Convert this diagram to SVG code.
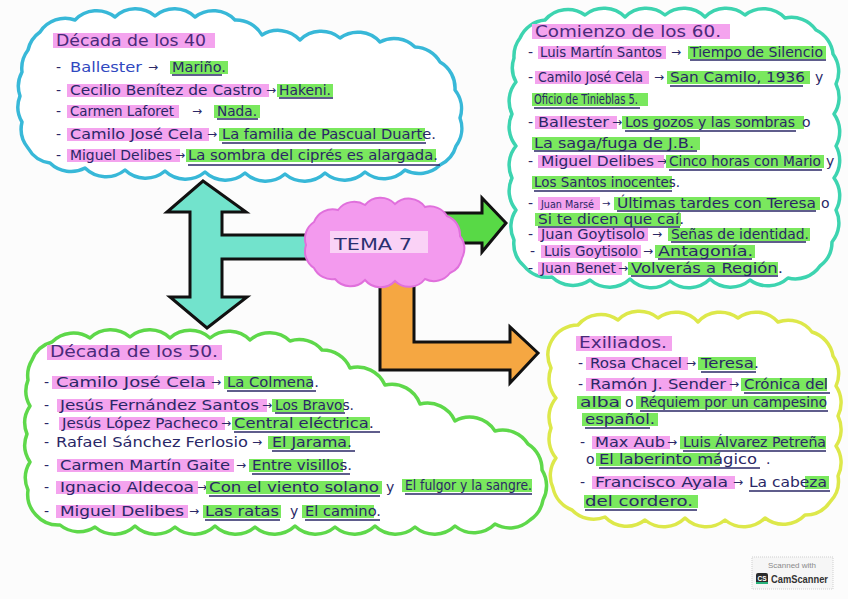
<svg xmlns="http://www.w3.org/2000/svg" width="848" height="599" viewBox="0 0 848 599">
<style>
.t{font-family:"DejaVu Sans","Liberation Sans",sans-serif;font-size:14px;fill:#2a2766}
.ttl{font-family:"DejaVu Sans","Liberation Sans",sans-serif;font-size:15px;fill:#4a2a7a}
.ar{font-family:"DejaVu Sans","Liberation Sans",sans-serif;font-size:12px;fill:#2a2766}
.hp{fill:#f4a3ee}
.hg{fill:#7ae85e}
.ul{stroke:#2a2766;stroke-width:1.3;fill:none}
.cloud{fill:#ffffff;stroke-width:3.5;stroke-linejoin:round}
.arrow{stroke:#111111;stroke-width:3;stroke-linejoin:miter}
</style>
<rect x="0" y="0" width="848" height="599" fill="#fcfcfc"/>

<g id="connectors">
  <path class="arrow" fill="#72e3cc" d="M203,181 L246,212 L222,212 L222,235 L312,235 L312,259 L222,259 L222,297 L247,297 L207,328 L170,297 L190,297 L190,212 L167,212 Z"/>
  <path class="arrow" fill="#58d946" d="M425,213 L482,213 L482,198 L506,223 L482,252 L482,243 L425,243 Z"/>
  <path class="arrow" fill="#f5a742" d="M380,265 L380,370 L510,370 L510,383 L538,353 L510,327 L510,342 L414,342 L414,265 Z"/>
</g>

<g id="node-tema7">
  <path fill="#f39aee" stroke="#e070dc" stroke-width="2" d="M306,245 A20,20 0 0 1 314,222 A20,20 0 0 1 338,210 A20,20 0 0 1 365,205 A20,20 0 0 1 395,204 A20,20 0 0 1 425,207 A20,20 0 0 1 447,216 A20,20 0 0 1 460,236 A20,20 0 0 1 462,258 A20,20 0 0 1 450,273 A20,20 0 0 1 425,279 A20,20 0 0 1 395,281 A20,20 0 0 1 365,280 A20,20 0 0 1 335,279 A20,20 0 0 1 314,268 A20,20 0 0 1 306,245 Z"/>
  <rect x="330" y="231" width="98" height="22" fill="#fbe0f8" opacity="0.8"/>
  <text class="t" x="334" y="250" style="font-size:16px;fill:#2a3070" textLength="78" lengthAdjust="spacingAndGlyphs">TEMA 7</text>
</g>

<g id="node-40s">
  <path class="cloud" stroke="#38b8d8" d="M28,50 A30,30 0 0 1 40,32 A30,30 0 0 1 75,20 A30,30 0 0 1 115,17 A30,30 0 0 1 155,16 A30,30 0 0 1 195,17 A30,30 0 0 1 235,20 A30,30 0 0 1 262,35 A30,30 0 0 1 300,40 A30,30 0 0 1 340,38 A30,30 0 0 1 380,42 A30,30 0 0 1 415,47 A30,30 0 0 1 440,62 A30,30 0 0 1 455,90 A30,30 0 0 1 460,118 A30,30 0 0 1 456,146 A30,30 0 0 1 440,165 A30,30 0 0 1 405,170 A30,30 0 0 1 365,172 A30,30 0 0 1 325,173 A30,30 0 0 1 285,174 A30,30 0 0 1 245,173 A30,30 0 0 1 205,172 A30,30 0 0 1 165,171 A30,30 0 0 1 125,170 A30,30 0 0 1 85,168 A30,30 0 0 1 50,163 A30,30 0 0 1 28,148 A30,30 0 0 1 22,122 A30,30 0 0 1 20,96 A30,30 0 0 1 22,72 A30,30 0 0 1 28,50 Z"/>
  <rect class="hp" x="53" y="33" width="162" height="15"/>
  <text class="ttl" x="56" y="46" textLength="150" lengthAdjust="spacingAndGlyphs">Década de los 40</text>

  <text class="t" x="56" y="72">-</text>
  <text class="t" x="70" y="72" textLength="72" lengthAdjust="spacingAndGlyphs" style="fill:#3048c0">Ballester</text>
  <text class="ar" x="148" y="71">→</text>
  <rect class="hg" x="170" y="61" width="58" height="13"/>
  <text class="t" x="172" y="72" textLength="54" lengthAdjust="spacingAndGlyphs">Mariño.</text>
  <line class="ul" x1="172" y1="75" x2="222" y2="75"/>

  <text class="t" x="56" y="95">-</text>
  <rect class="hp" x="67" y="84" width="202" height="13"/>
  <text class="t" x="70" y="95" textLength="192" lengthAdjust="spacingAndGlyphs">Cecilio Benítez de Castro</text>
  <text class="ar" x="266" y="94">→</text>
  <rect class="hg" x="277" y="84" width="56" height="13"/>
  <text class="t" x="279" y="95" textLength="52" lengthAdjust="spacingAndGlyphs">Hakeni.</text>
  <line class="ul" x1="279" y1="98" x2="333" y2="98"/>

  <text class="t" x="56" y="116">-</text>
  <rect class="hp" x="67" y="105" width="112" height="13"/>
  <text class="t" x="70" y="116" textLength="104" lengthAdjust="spacingAndGlyphs">Carmen Laforet</text>
  <text class="ar" x="192" y="115">→</text>
  <rect class="hg" x="214" y="105" width="46" height="13"/>
  <text class="t" x="217" y="116" textLength="40" lengthAdjust="spacingAndGlyphs">Nada.</text>
  <line class="ul" x1="217" y1="119" x2="258" y2="119"/>

  <text class="t" x="56" y="139">-</text>
  <rect class="hp" x="67" y="128" width="142" height="13"/>
  <text class="t" x="70" y="139" textLength="133" lengthAdjust="spacingAndGlyphs">Camilo José Cela</text>
  <text class="ar" x="207" y="138">→</text>
  <rect class="hg" x="219" y="128" width="206" height="13"/>
  <text class="t" x="222" y="139" textLength="214" lengthAdjust="spacingAndGlyphs">La familia de Pascual Duarte.</text>
  <line class="ul" x1="222" y1="143" x2="426" y2="143"/>

  <text class="t" x="56" y="160">-</text>
  <rect class="hp" x="67" y="149" width="113" height="13"/>
  <text class="t" x="70" y="160" textLength="102" lengthAdjust="spacingAndGlyphs">Miguel Delibes</text>
  <text class="ar" x="175" y="159">→</text>
  <rect class="hg" x="186" y="149" width="250" height="13"/>
  <text class="t" x="188" y="160" textLength="250" lengthAdjust="spacingAndGlyphs">La sombra del ciprés es alargada.</text>
  <line class="ul" x1="188" y1="165" x2="440" y2="165"/>
</g>

<g id="node-60s">
  <path class="cloud" stroke="#3dd4b0" d="M520,38 A30,30 0 0 1 545,20 A30,30 0 0 1 585,15 A30,30 0 0 1 625,17 A30,30 0 0 1 665,15 A30,30 0 0 1 705,17 A30,30 0 0 1 745,15 A30,30 0 0 1 785,18 A30,30 0 0 1 816,30 A30,30 0 0 1 833,54 A30,30 0 0 1 836,84 A30,30 0 0 1 834,114 A30,30 0 0 1 836,146 A30,30 0 0 1 834,178 A30,30 0 0 1 836,210 A30,30 0 0 1 832,242 A30,30 0 0 1 820,266 A30,30 0 0 1 788,278 A30,30 0 0 1 750,280 A30,30 0 0 1 710,279 A30,30 0 0 1 670,281 A30,30 0 0 1 630,279 A30,30 0 0 1 590,280 A30,30 0 0 1 552,277 A30,30 0 0 1 524,266 A30,30 0 0 1 514,240 A30,30 0 0 1 516,210 A30,30 0 0 1 512,178 A30,30 0 0 1 516,146 A30,30 0 0 1 512,114 A30,30 0 0 1 516,82 A30,30 0 0 1 514,58 A30,30 0 0 1 520,38 Z"/>
  <rect class="hp" x="532" y="24" width="198" height="15"/>
  <text class="ttl" x="535" y="37" textLength="186" lengthAdjust="spacingAndGlyphs">Comienzo de los 60.</text>

  <text class="t" x="528" y="57">-</text>
  <rect class="hp" x="538" y="46" width="128" height="13"/>
  <text class="t" x="540" y="57" textLength="122" lengthAdjust="spacingAndGlyphs">Luis Martín Santos</text>
  <text class="ar" x="671" y="56">→</text>
  <rect class="hg" x="688" y="46" width="138" height="13"/>
  <text class="t" x="690" y="57" textLength="133" lengthAdjust="spacingAndGlyphs">Tiempo de Silencio</text>
  <line class="ul" x1="690" y1="60" x2="826" y2="60"/>

  <text class="t" x="528" y="82">-</text>
  <rect class="hp" x="535" y="71" width="114" height="13"/>
  <text class="t" x="538" y="82" textLength="105" lengthAdjust="spacingAndGlyphs">Camilo José Cela</text>
  <text class="ar" x="654" y="81">→</text>
  <rect class="hg" x="667" y="71" width="143" height="13"/>
  <text class="t" x="670" y="82" textLength="135" lengthAdjust="spacingAndGlyphs">San Camilo, 1936</text>
  <text class="t" x="815" y="82">y</text>
  <line class="ul" x1="670" y1="86" x2="803" y2="86"/>

  <rect class="hg" x="532" y="93" width="116" height="13"/>
  <text class="t" x="534" y="104" textLength="104" lengthAdjust="spacingAndGlyphs">Oficio de Tinieblas 5.</text>
  <line class="ul" x1="534" y1="108" x2="640" y2="108"/>

  <text class="t" x="528" y="127">-</text>
  <rect class="hp" x="535" y="116" width="82" height="13"/>
  <text class="t" x="538" y="127" textLength="71" lengthAdjust="spacingAndGlyphs">Ballester</text>
  <text class="ar" x="612" y="126">→</text>
  <rect class="hg" x="622" y="116" width="182" height="13"/>
  <text class="t" x="625" y="127" textLength="170" lengthAdjust="spacingAndGlyphs">Los gozos y las sombras</text>
  <text class="t" x="802" y="127">o</text>
  <line class="ul" x1="625" y1="131" x2="796" y2="131"/>

  <rect class="hg" x="532" y="137" width="168" height="13"/>
  <text class="t" x="534" y="148" textLength="160" lengthAdjust="spacingAndGlyphs">La saga/fuga de J.B.</text>
  <line class="ul" x1="534" y1="151" x2="697" y2="151"/>

  <text class="t" x="528" y="166">-</text>
  <rect class="hp" x="538" y="155" width="126" height="13"/>
  <text class="t" x="541" y="166" textLength="113" lengthAdjust="spacingAndGlyphs">Miguel Delibes</text>
  <text class="ar" x="657" y="165">→</text>
  <rect class="hg" x="666" y="155" width="158" height="13"/>
  <text class="t" x="669" y="166" textLength="152" lengthAdjust="spacingAndGlyphs">Cinco horas con Mario</text>
  <text class="t" x="826" y="166">y</text>
  <line class="ul" x1="669" y1="170" x2="822" y2="170"/>

  <rect class="hg" x="532" y="176" width="140" height="13"/>
  <text class="t" x="534" y="187" textLength="146" lengthAdjust="spacingAndGlyphs">Los Santos inocentes.</text>
  <line class="ul" x1="534" y1="191" x2="672" y2="191"/>

  <text class="t" x="528" y="208">-</text>
  <rect class="hp" x="538" y="197" width="62" height="13"/>
  <text class="t" x="541" y="208" style="font-size:10px" textLength="53" lengthAdjust="spacingAndGlyphs">Juan Marsé</text>
  <text class="ar" x="602" y="207" style="font-size:10px">→</text>
  <rect class="hg" x="614" y="197" width="206" height="13"/>
  <text class="t" x="617" y="208" textLength="199" lengthAdjust="spacingAndGlyphs">Últimas tardes con Teresa</text>
  <text class="t" x="821" y="208">o</text>
  <line class="ul" x1="617" y1="211" x2="816" y2="211"/>

  <rect class="hg" x="535" y="213" width="146" height="13"/>
  <text class="t" x="538" y="224" textLength="146" lengthAdjust="spacingAndGlyphs">Si te dicen que caí.</text>
  <line class="ul" x1="538" y1="227" x2="680" y2="227"/>

  <text class="t" x="528" y="239">-</text>
  <rect class="hp" x="538" y="228" width="110" height="13"/>
  <text class="t" x="541" y="239" textLength="104" lengthAdjust="spacingAndGlyphs">Juan Goytisolo</text>
  <text class="ar" x="652" y="238">→</text>
  <rect class="hg" x="668" y="228" width="142" height="13"/>
  <text class="t" x="671" y="239" textLength="138" lengthAdjust="spacingAndGlyphs">Señas de identidad.</text>
  <line class="ul" x1="671" y1="242" x2="806" y2="242"/>

  <text class="t" x="530" y="256">-</text>
  <rect class="hp" x="541" y="245" width="100" height="13"/>
  <text class="t" x="544" y="256" textLength="94" lengthAdjust="spacingAndGlyphs">Luis Goytisolo</text>
  <text class="ar" x="643" y="255">→</text>
  <rect class="hg" x="655" y="245" width="100" height="13"/>
  <text class="t" x="658" y="256" textLength="95" lengthAdjust="spacingAndGlyphs">Antagonía.</text>
  <line class="ul" x1="658" y1="259" x2="752" y2="259"/>

  <text class="t" x="528" y="273">-</text>
  <rect class="hp" x="538" y="262" width="84" height="13"/>
  <text class="t" x="541" y="273" textLength="75" lengthAdjust="spacingAndGlyphs">Juan Benet</text>
  <text class="ar" x="618" y="272">→</text>
  <rect class="hg" x="628" y="262" width="150" height="13"/>
  <text class="t" x="631" y="273" textLength="152" lengthAdjust="spacingAndGlyphs">Volverás a Región.</text>
  <line class="ul" x1="631" y1="276" x2="778" y2="276"/>
</g>

<g id="node-50s">
  <path class="cloud" stroke="#5ed84a" d="M32,360 A30,30 0 0 1 52,342 A30,30 0 0 1 90,338 A30,30 0 0 1 130,337 A30,30 0 0 1 170,338 A30,30 0 0 1 210,338 A30,30 0 0 1 250,340 A30,30 0 0 1 290,341 A30,30 0 0 1 322,350 A30,30 0 0 1 350,368 A30,30 0 0 1 385,385 A30,30 0 0 1 420,404 A30,30 0 0 1 455,421 A30,30 0 0 1 495,431 A30,30 0 0 1 528,444 A30,30 0 0 1 542,470 A30,30 0 0 1 543,500 A30,30 0 0 1 530,520 A30,30 0 0 1 495,524 A30,30 0 0 1 455,526 A30,30 0 0 1 415,527 A30,30 0 0 1 375,526 A30,30 0 0 1 335,527 A30,30 0 0 1 295,526 A30,30 0 0 1 255,527 A30,30 0 0 1 215,526 A30,30 0 0 1 175,527 A30,30 0 0 1 135,526 A30,30 0 0 1 95,527 A30,30 0 0 1 60,525 A30,30 0 0 1 36,515 A30,30 0 0 1 28,490 A30,30 0 0 1 30,462 A30,30 0 0 1 27,434 A30,30 0 0 1 30,406 A30,30 0 0 1 28,380 A30,30 0 0 1 32,360 Z"/>
  <rect class="hp" x="47" y="345" width="175" height="15"/>
  <text class="ttl" x="50" y="357" textLength="168" lengthAdjust="spacingAndGlyphs">Década de los 50.</text>

  <text class="t" x="44" y="387">-</text>
  <rect class="hp" x="52" y="376" width="162" height="13"/>
  <text class="t" x="56" y="387" textLength="150" lengthAdjust="spacingAndGlyphs">Camilo José Cela</text>
  <text class="ar" x="211" y="386">→</text>
  <rect class="hg" x="224" y="376" width="88" height="13"/>
  <text class="t" x="227" y="387" textLength="92" lengthAdjust="spacingAndGlyphs">La Colmena.</text>
  <line class="ul" x1="227" y1="391" x2="316" y2="391"/>

  <text class="t" x="44" y="410">-</text>
  <rect class="hp" x="57" y="399" width="210" height="13"/>
  <text class="t" x="60" y="410" textLength="199" lengthAdjust="spacingAndGlyphs">Jesús Fernández Santos</text>
  <text class="ar" x="262" y="409">→</text>
  <rect class="hg" x="272" y="399" width="72" height="13"/>
  <text class="t" x="275" y="410" textLength="79" lengthAdjust="spacingAndGlyphs">Los Bravos.</text>
  <line class="ul" x1="275" y1="413" x2="345" y2="413"/>

  <text class="t" x="44" y="428">-</text>
  <rect class="hp" x="59" y="417" width="166" height="13"/>
  <text class="t" x="62" y="428" textLength="156" lengthAdjust="spacingAndGlyphs">Jesús López Pacheco</text>
  <text class="ar" x="221" y="427">→</text>
  <rect class="hg" x="232" y="417" width="138" height="13"/>
  <text class="t" x="234" y="428" textLength="140" lengthAdjust="spacingAndGlyphs">Central eléctrica.</text>
  <line class="ul" x1="234" y1="432" x2="380" y2="432"/>

  <text class="t" x="44" y="447">-</text>
  <text class="t" x="56" y="447" textLength="192" lengthAdjust="spacingAndGlyphs">Rafael Sánchez Ferlosio</text>
  <text class="ar" x="252" y="446">→</text>
  <rect class="hg" x="268" y="436" width="82" height="13"/>
  <text class="t" x="272" y="447" textLength="80" lengthAdjust="spacingAndGlyphs">El Jarama.</text>
  <line class="ul" x1="272" y1="451" x2="355" y2="451"/>

  <text class="t" x="44" y="470">-</text>
  <rect class="hp" x="57" y="459" width="177" height="13"/>
  <text class="t" x="60" y="470" textLength="170" lengthAdjust="spacingAndGlyphs">Carmen Martín Gaite</text>
  <text class="ar" x="236" y="469">→</text>
  <rect class="hg" x="249" y="459" width="94" height="13"/>
  <text class="t" x="252" y="470" textLength="100" lengthAdjust="spacingAndGlyphs">Entre visillos.</text>
  <line class="ul" x1="252" y1="474" x2="350" y2="474"/>

  <text class="t" x="44" y="492">-</text>
  <rect class="hp" x="56" y="481" width="142" height="13"/>
  <text class="t" x="60" y="492" textLength="134" lengthAdjust="spacingAndGlyphs">Ignacio Aldecoa</text>
  <text class="ar" x="197" y="491">→</text>
  <rect class="hg" x="206" y="481" width="176" height="13"/>
  <text class="t" x="209" y="492" textLength="170" lengthAdjust="spacingAndGlyphs">Con el viento solano</text>
  <text class="t" x="386" y="492">y</text>
  <rect class="hg" x="402" y="479" width="130" height="13"/>
  <text class="t" x="405" y="490" textLength="127" lengthAdjust="spacingAndGlyphs">El fulgor y la sangre.</text>
  <line class="ul" x1="209" y1="496" x2="380" y2="496"/>
  <line class="ul" x1="405" y1="494" x2="532" y2="494"/>

  <text class="t" x="44" y="516">-</text>
  <rect class="hp" x="56" y="505" width="132" height="13"/>
  <text class="t" x="60" y="516" textLength="124" lengthAdjust="spacingAndGlyphs">Miguel Delibes</text>
  <text class="ar" x="189" y="515">→</text>
  <rect class="hg" x="203" y="505" width="78" height="13"/>
  <text class="t" x="205" y="516" textLength="74" lengthAdjust="spacingAndGlyphs">Las ratas</text>
  <text class="t" x="290" y="516">y</text>
  <rect class="hg" x="302" y="505" width="72" height="13"/>
  <text class="t" x="305" y="516" textLength="76" lengthAdjust="spacingAndGlyphs">El camino.</text>
  <line class="ul" x1="205" y1="520" x2="280" y2="520"/>
  <line class="ul" x1="305" y1="520" x2="380" y2="520"/>
</g>

<g id="node-exiliados">
  <path class="cloud" stroke="#dde84a" d="M552,340 A30,30 0 0 1 578,325 A30,30 0 0 1 618,320 A30,30 0 0 1 658,318 A30,30 0 0 1 698,322 A30,30 0 0 1 738,318 A30,30 0 0 1 778,322 A30,30 0 0 1 812,332 A30,30 0 0 1 833,356 A30,30 0 0 1 836,386 A30,30 0 0 1 838,416 A30,30 0 0 1 836,446 A30,30 0 0 1 838,476 A30,30 0 0 1 830,502 A30,30 0 0 1 805,515 A30,30 0 0 1 765,518 A30,30 0 0 1 725,520 A30,30 0 0 1 685,518 A30,30 0 0 1 645,520 A30,30 0 0 1 605,517 A30,30 0 0 1 572,510 A30,30 0 0 1 553,488 A30,30 0 0 1 556,458 A30,30 0 0 1 551,428 A30,30 0 0 1 556,398 A30,30 0 0 1 551,368 A30,30 0 0 1 552,340 Z"/>
  <rect class="hp" x="576" y="336" width="96" height="15"/>
  <text class="ttl" x="579" y="348" textLength="88" lengthAdjust="spacingAndGlyphs">Exiliados.</text>

  <text class="t" x="578" y="368">-</text>
  <rect class="hp" x="586" y="357" width="102" height="13"/>
  <text class="t" x="590" y="368" textLength="92" lengthAdjust="spacingAndGlyphs">Rosa Chacel</text>
  <text class="ar" x="686" y="367">→</text>
  <rect class="hg" x="698" y="357" width="58" height="13"/>
  <text class="t" x="701" y="368" textLength="58" lengthAdjust="spacingAndGlyphs">Teresa.</text>
  <line class="ul" x1="701" y1="372" x2="756" y2="372"/>

  <text class="t" x="578" y="389">-</text>
  <rect class="hp" x="586" y="378" width="146" height="13"/>
  <text class="t" x="590" y="389" textLength="136" lengthAdjust="spacingAndGlyphs">Ramón J. Sender</text>
  <text class="ar" x="729" y="388">→</text>
  <rect class="hg" x="741" y="378" width="86" height="13"/>
  <text class="t" x="744" y="389" textLength="84" lengthAdjust="spacingAndGlyphs">Crónica del</text>
  <line class="ul" x1="744" y1="393" x2="830" y2="393"/>

  <rect class="hg" x="577" y="396" width="44" height="13"/>
  <text class="t" x="580" y="407" textLength="40" lengthAdjust="spacingAndGlyphs">alba</text>
  <text class="t" x="625" y="407">o</text>
  <rect class="hg" x="636" y="396" width="190" height="13"/>
  <text class="t" x="640" y="407" textLength="187" lengthAdjust="spacingAndGlyphs">Réquiem por un campesino</text>
  <line class="ul" x1="640" y1="411" x2="828" y2="411"/>

  <rect class="hg" x="582" y="413" width="76" height="13"/>
  <text class="t" x="585" y="424" textLength="70" lengthAdjust="spacingAndGlyphs">español.</text>
  <line class="ul" x1="585" y1="428" x2="650" y2="428"/>

  <text class="t" x="580" y="447">-</text>
  <rect class="hp" x="592" y="436" width="78" height="13"/>
  <text class="t" x="595" y="447" textLength="70" lengthAdjust="spacingAndGlyphs">Max Aub</text>
  <text class="ar" x="667" y="446">→</text>
  <rect class="hg" x="680" y="436" width="146" height="13"/>
  <text class="t" x="683" y="447" textLength="143" lengthAdjust="spacingAndGlyphs">Luis Álvarez Petreña</text>
  <line class="ul" x1="683" y1="451" x2="826" y2="451"/>

  <text class="t" x="586" y="464">o</text>
  <rect class="hg" x="596" y="453" width="124" height="13"/>
  <text class="t" x="599" y="464" textLength="158" lengthAdjust="spacingAndGlyphs">El laberinto mágico</text>
  <text class="t" x="766" y="464">.</text>
  <line class="ul" x1="599" y1="468" x2="760" y2="468"/>

  <text class="t" x="580" y="487">-</text>
  <rect class="hp" x="592" y="476" width="143" height="13"/>
  <text class="t" x="595" y="487" textLength="133" lengthAdjust="spacingAndGlyphs">Francisco Ayala</text>
  <text class="ar" x="733" y="486">→</text>
  <rect class="hg" x="805" y="476" width="24" height="13"/>
  <text class="t" x="749" y="487" textLength="78" lengthAdjust="spacingAndGlyphs">La cabeza</text>
  <line class="ul" x1="749" y1="491" x2="830" y2="491"/>

  <rect class="hg" x="584" y="495" width="114" height="13"/>
  <text class="t" x="585" y="506" textLength="108" lengthAdjust="spacingAndGlyphs">del cordero.</text>
  <line class="ul" x1="585" y1="510" x2="697" y2="510"/>
</g>

<g id="badge">
  <rect x="752" y="557" width="81" height="32" fill="#f6f6f6" stroke="#cfcfcf" stroke-width="1" stroke-dasharray="1 1"/>
  <text x="792" y="568" text-anchor="middle" font-family="Liberation Sans, sans-serif" font-size="8" fill="#8a8a8a">Scanned with</text>
  <rect x="756" y="573" width="12" height="11" rx="2" fill="#2b2b2b"/>
  <rect x="756" y="582" width="12" height="2" fill="#27b37a"/>
  <text x="762" y="581" text-anchor="middle" font-family="Liberation Sans, sans-serif" font-size="6.5" font-weight="bold" fill="#ffffff">CS</text>
  <text x="771" y="583" font-family="Liberation Sans, sans-serif" font-size="10.5" font-weight="bold" fill="#333333" textLength="57" lengthAdjust="spacingAndGlyphs">CamScanner</text>
</g>
</svg>
